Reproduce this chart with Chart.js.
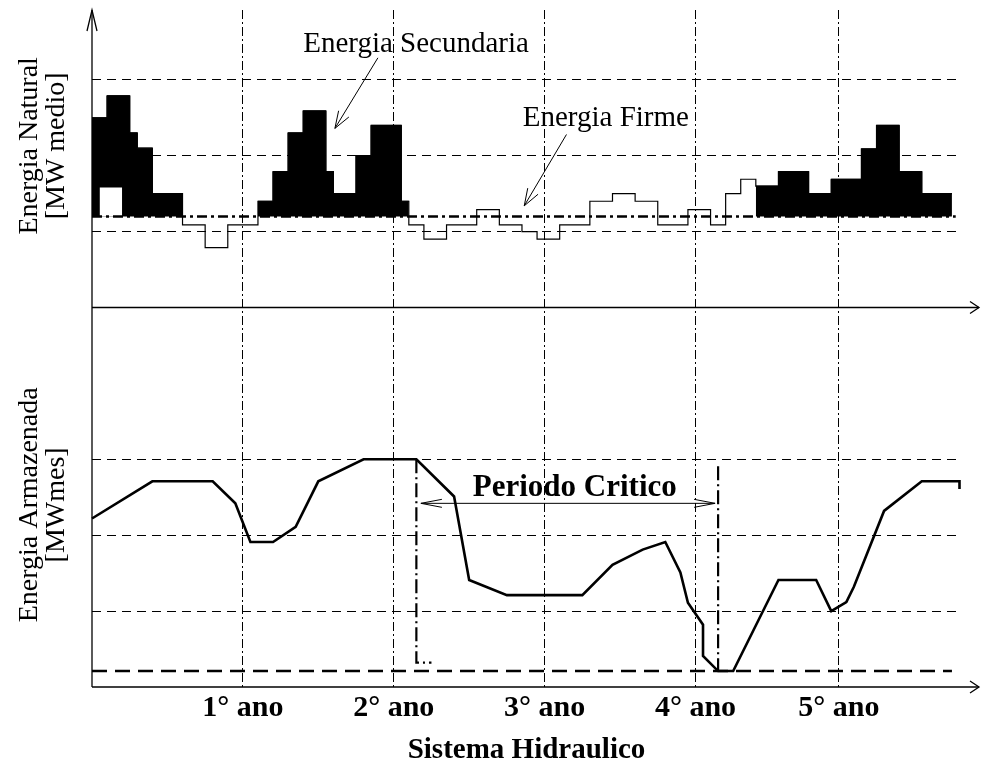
<!DOCTYPE html>
<html>
<head>
<meta charset="utf-8">
<script src="https://cdn.jsdelivr.net/npm/chart.js@4.4.1/dist/chart.umd.min.js"></script>
<style>
  html, body { margin: 0; padding: 0; background: #fff; }
  #wrap { width: 981px; height: 764px; }
</style>
</head>
<body>
<div id="wrap"><canvas id="chart" width="981" height="764"></canvas></div>
<script>
// ================= DATA =================
// x axis in time steps (about 20 steps per year)
const yearTicks = [20, 40, 60, 80, 99];
const yearLabels = ["1° ano", "2° ano", "3° ano", "4° ano", "5° ano"];

// Energia Natural: step edges and the value held on each step
const naturalEdges = [0, 2, 5, 6, 8, 12, 15, 18, 22, 24, 26, 28, 31, 32, 35, 37, 41, 42, 44, 47, 51,
    54, 57, 59, 62, 66, 69, 72, 75, 79, 82, 84, 86, 88, 91, 95, 98, 102, 104, 107, 110, 114];
const naturalValues = [2.50, 2.79, 2.30, 2.10, 1.50, 1.09, 0.79, 1.09, 1.40, 1.79, 2.30, 2.59, 1.79,
    1.50, 2.00, 2.40, 1.40, 1.09, 0.90, 1.09, 1.29, 1.09, 1.00, 0.90, 1.09, 1.40, 1.50, 1.40, 1.09,
    1.29, 1.09, 1.50, 1.69, 1.60, 1.79, 1.50, 1.69, 2.09, 2.40, 1.79, 1.50];

// Energia Secundaria (black) periods, and the white gap inside the first one
const secundariaPeriods = [[0, 12], [22, 42], [88, 114]];
const gapRange = [1, 4];
const gapTop = 1.58;

// Energia Firme
const firmValue = 1.20;
const firmRange = [0, 114.5];

// Energia Armazenada
const storedX = [0, 8, 16, 19, 21, 24, 27, 30, 36, 43, 48, 50, 55, 65, 69, 73, 76, 78, 79, 81,
    81, 83, 85, 91, 96, 98, 100, 101, 105, 110, 115, 115];
const storedY = [2.22, 2.71, 2.71, 2.42, 1.91, 1.91, 2.11, 2.71, 3.00, 3.00, 2.51, 1.41, 1.21, 1.21,
    1.61, 1.81, 1.91, 1.51, 1.11, 0.82, 0.41, 0.21, 0.21, 1.41, 1.41, 1.00, 1.12, 1.32, 2.32, 2.71,
    2.71, 2.61];

// minimum storage and the critical period
const minStorage = 0.21;
const minRange = [0, 114];
const criticalStart = 43;
const criticalEnd = 83;
const criticalStartTop = 3.0;
const criticalEndTop = 2.91;
const criticalFoot = 0.32;
const periodArrow = { from: 43.6, to: 82.6, y: 2.42 };

// axis titles
const topTitle = ["Energia Natural", "[MW medio]"];
const botTitle = ["Energia Armazenada", "[MWmes]"];

// ================= BUILD POINTS =================
function stepPoints(from, to) {
    let pts = [];
    let last = null;
    for (let i = 0; i < naturalValues.length; i++) {
        if (naturalEdges[i] >= from && naturalEdges[i + 1] <= to) {
            pts.push({ x: naturalEdges[i], y: naturalValues[i] });
            last = naturalValues[i];
        }
    }
    pts.push({ x: to, y: last });
    return pts;
}

let naturalPts = stepPoints(naturalEdges[0], naturalEdges[naturalEdges.length - 1]);

let secundariaPts = [];
secundariaPeriods.forEach(p => {
    secundariaPts = secundariaPts.concat(stepPoints(p[0], p[1]));
    secundariaPts.push({ x: p[1] + 0.5, y: null });
});

let storedPts = storedX.map((x, i) => ({ x: x, y: storedY[i] }));

// ================= DECORATIONS =================
const SERIF = '"Liberation Serif", "Times New Roman", serif';

const notes = [
    { text: "Energia Secundaria", x: 28.0, y: 3.37, from: [37.9, 3.29], to: [32.2, 2.36] },
    { text: "Energia Firme", x: 57.1, y: 2.39, from: [62.9, 2.28], to: [57.3, 1.34] }
];

function line(ctx, x1, y1, x2, y2) {
    ctx.beginPath();
    ctx.moveTo(x1, y1);
    ctx.lineTo(x2, y2);
    ctx.stroke();
}

function head(ctx, tx, ty, ang, len, half) {
    let bx = tx - len * Math.cos(ang);
    let by = ty - len * Math.sin(ang);
    let nx = -Math.sin(ang) * half;
    let ny = Math.cos(ang) * half;
    ctx.beginPath();
    ctx.moveTo(bx + nx, by + ny);
    ctx.lineTo(tx, ty);
    ctx.lineTo(bx - nx, by - ny);
    ctx.stroke();
}

function sideTitle(ctx, lines, cy) {
    ctx.save();
    ctx.translate(0, cy);
    ctx.rotate(-Math.PI / 2);
    ctx.textAlign = 'center';
    ctx.textBaseline = 'alphabetic';
    ctx.font = '28px ' + SERIF;
    ctx.fillText(lines[0], 0, 37);
    ctx.fillText(lines[1], 0, 64);
    ctx.restore();
}

const decor = {
    id: 'decor',
    afterDatasetsDraw(chart) {
        const { ctx, chartArea, scales } = chart;
        const x = scales.x, yt = scales.yTop, yb = scales.yBot;
        ctx.save();
        ctx.strokeStyle = '#000';
        ctx.fillStyle = '#000';
        ctx.setLineDash([]);

        // axes with arrows
        ctx.lineWidth = 1.3;
        line(ctx, chartArea.left, chartArea.bottom, chartArea.left, chartArea.top);
        head(ctx, chartArea.left, chartArea.top, -Math.PI / 2, 21, 5);
        [yt.bottom, yb.bottom].forEach(py => {
            line(ctx, chartArea.left, py, 979, py);
            head(ctx, 979, py, 0, 9, 6);
        });

        // side titles of the two panels
        sideTitle(ctx, topTitle, yt.getPixelForValue(2.13));
        sideTitle(ctx, botTitle, yb.getPixelForValue(2.4));

        // top panel notes
        ctx.lineWidth = 1;
        ctx.font = '29px ' + SERIF;
        ctx.textBaseline = 'alphabetic';
        ctx.textAlign = 'left';
        notes.forEach(n => {
            ctx.fillText(n.text, x.getPixelForValue(n.x), yt.getPixelForValue(n.y));
            let x1 = x.getPixelForValue(n.from[0]), y1 = yt.getPixelForValue(n.from[1]);
            let x2 = x.getPixelForValue(n.to[0]), y2 = yt.getPixelForValue(n.to[1]);
            line(ctx, x1, y1, x2, y2);
            head(ctx, x2, y2, Math.atan2(y2 - y1, x2 - x1), 17, 6);
        });

        // critical period double arrow
        let ax1 = x.getPixelForValue(periodArrow.from);
        let ax2 = x.getPixelForValue(periodArrow.to);
        let ay = yb.getPixelForValue(periodArrow.y);
        line(ctx, ax1, ay, ax2, ay);
        head(ctx, ax1, ay, Math.PI, 21, 4);
        head(ctx, ax2, ay, 0, 21, 4);

        ctx.font = 'bold 31px ' + SERIF;
        ctx.textAlign = 'center';
        ctx.fillText("Periodo Critico", x.getPixelForValue((periodArrow.from + periodArrow.to) / 2 + 0.9),
            yb.getPixelForValue(2.52));
        ctx.restore();
    }
};

// ================= CHART =================
window.onload = function () {
    const ctx = document.getElementById('chart').getContext('2d');

    Chart.defaults.font.family = SERIF;
    Chart.defaults.color = '#000';

    new Chart(ctx, {
        type: 'line',
        data: {
            datasets: [
                {
                    label: 'Energia Secundaria',
                    data: secundariaPts,
                    yAxisID: 'yTop',
                    stepped: 'before',
                    borderColor: '#000',
                    borderWidth: 1,
                    backgroundColor: '#000',
                    fill: { value: firmValue },
                    spanGaps: false,
                    pointRadius: 0,
                    order: 6
                },
                {
                    label: 'gap',
                    data: [{ x: gapRange[0], y: gapTop }, { x: gapRange[1], y: gapTop }],
                    yAxisID: 'yTop',
                    borderWidth: 0,
                    borderColor: 'rgba(0,0,0,0)',
                    backgroundColor: '#fff',
                    fill: { value: firmValue },
                    pointRadius: 0,
                    order: 5
                },
                {
                    label: 'Energia Natural',
                    data: naturalPts,
                    yAxisID: 'yTop',
                    stepped: 'before',
                    borderColor: '#000',
                    borderWidth: 1.2,
                    fill: false,
                    pointRadius: 0,
                    order: 4
                },
                {
                    label: 'Energia Firme',
                    data: firmRange.map(v => ({ x: v, y: firmValue })),
                    yAxisID: 'yTop',
                    borderColor: '#000',
                    borderWidth: 2.4,
                    borderDash: [10, 4, 3, 4],
                    fill: false,
                    pointRadius: 0,
                    order: 3
                },
                {
                    label: 'Energia Armazenada',
                    data: storedPts,
                    yAxisID: 'yBot',
                    borderColor: '#000',
                    borderWidth: 2.6,
                    fill: false,
                    pointRadius: 0,
                    clip: false,
                    order: 2
                },
                {
                    label: 'Armazenamento minimo',
                    data: minRange.map(v => ({ x: v, y: minStorage })),
                    yAxisID: 'yBot',
                    borderColor: '#000',
                    borderWidth: 2.6,
                    borderDash: [15, 8],
                    fill: false,
                    pointRadius: 0,
                    order: 2
                },
                {
                    label: 'Inicio',
                    data: [{ x: criticalStart, y: criticalStartTop }, { x: criticalStart, y: criticalFoot },
                        { x: criticalStart + 2, y: criticalFoot }],
                    yAxisID: 'yBot',
                    borderColor: '#000',
                    borderWidth: 2.2,
                    borderDash: [14, 4, 2, 4],
                    fill: false,
                    pointRadius: 0,
                    order: 1
                },
                {
                    label: 'Fim',
                    data: [{ x: criticalEnd, y: criticalEndTop }, { x: criticalEnd, y: minStorage }],
                    yAxisID: 'yBot',
                    borderColor: '#000',
                    borderWidth: 2.2,
                    borderDash: [14, 4, 2, 4],
                    fill: false,
                    pointRadius: 0,
                    order: 1
                }
            ]
        },
        options: {
            responsive: false,
            animation: false,
            devicePixelRatio: 1,
            layout: { padding: { top: 10, right: 20, left: 0, bottom: 0 } },
            plugins: {
                legend: { display: false },
                tooltip: { enabled: false }
            },
            scales: {
                x: {
                    type: 'linear',
                    min: 0,
                    max: 115.2,
                    afterBuildTicks: s => { s.ticks = yearTicks.map(v => ({ value: v })); },
                    afterFit: s => { s.height = 77; },
                    grid: { color: '#000', lineWidth: 1, drawTicks: false },
                    border: { display: false, dash: [9, 3, 2, 3] },
                    ticks: {
                        autoSkip: false,
                        maxRotation: 0,
                        padding: 3,
                        font: { size: 30, weight: 'bold' },
                        callback: (v, i) => yearLabels[i]
                    },
                    title: {
                        display: true,
                        text: 'Sistema Hidraulico',
                        font: { size: 29, weight: 'bold', lineHeight: 0.95 },
                        padding: { top: 0, bottom: 0 }
                    }
                },
                yTop: {
                    type: 'linear',
                    position: 'left',
                    stack: 'paineis',
                    stackWeight: 3.92,
                    weight: 2,
                    min: 0,
                    max: 3.92,
                    afterBuildTicks: s => { s.ticks = [1, 2, 3].map(v => ({ value: v })); },
                    afterFit: s => { s.width = 92; },
                    grid: { color: '#000', lineWidth: 1, drawTicks: false },
                    border: { display: false, dash: [9, 6] },
                    ticks: { display: false }
                },
                yBot: {
                    type: 'linear',
                    position: 'left',
                    stack: 'paineis',
                    stackWeight: 5,
                    weight: 1,
                    min: 0,
                    max: 5,
                    afterBuildTicks: s => { s.ticks = [1, 2, 3].map(v => ({ value: v })); },
                    afterFit: s => { s.width = 92; },
                    grid: { color: '#000', lineWidth: 1, drawTicks: false },
                    border: { display: false, dash: [9, 6] },
                    ticks: { display: false }
                }
            }
        },
        plugins: [decor]
    });
};
</script>
</body>
</html>
